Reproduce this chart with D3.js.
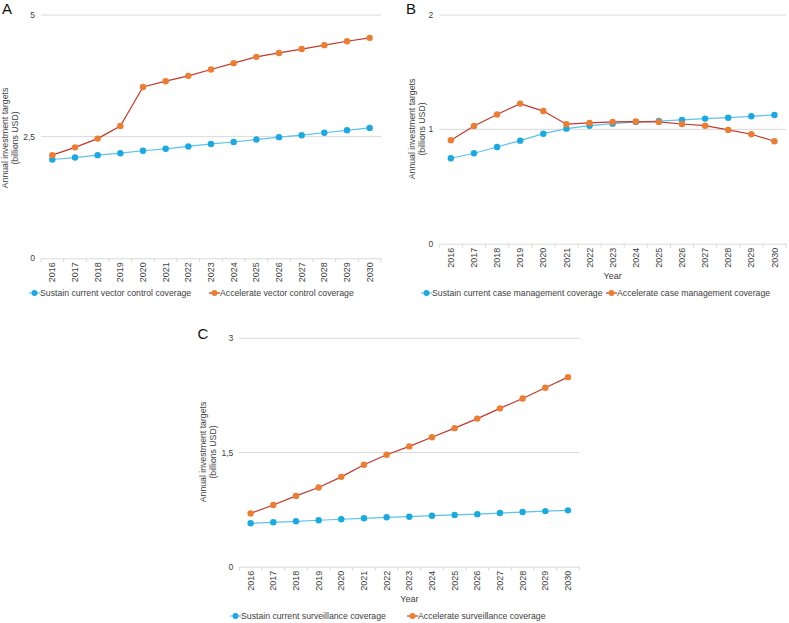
<!DOCTYPE html>
<html><head><meta charset="utf-8">
<script src="https://cdn.jsdelivr.net/npm/d3@7"></script>
<style>
body{margin:0;background:#fff;}
svg{display:block;font-family:"Liberation Sans",Arial,sans-serif;}
</style></head>
<body><svg id="c" width="789" height="623"></svg>
<script>
const years = ["2016","2017","2018","2019","2020","2021","2022","2023","2024","2025","2026","2027","2028","2029","2030"];

const sustainVector = [2.03,2.07,2.12,2.16,2.21,2.25,2.30,2.35,2.39,2.44,2.49,2.53,2.58,2.63,2.68];
const accelVector   = [2.12,2.28,2.46,2.72,3.52,3.64,3.75,3.88,4.01,4.14,4.22,4.30,4.38,4.46,4.53];

const sustainCase = [0.747,0.791,0.846,0.901,0.962,1.006,1.032,1.050,1.065,1.073,1.082,1.094,1.102,1.114,1.126];
const accelCase   = [0.905,1.030,1.130,1.225,1.160,1.045,1.056,1.065,1.068,1.065,1.047,1.032,0.995,0.957,0.896];

const sustainSurv = [0.570,0.583,0.596,0.610,0.623,0.636,0.649,0.657,0.670,0.680,0.690,0.705,0.718,0.730,0.740];
const accelSurv   = [0.70,0.81,0.93,1.04,1.18,1.34,1.47,1.58,1.70,1.82,1.945,2.08,2.21,2.35,2.49];

const ticksA = [0,2.5,5], ticksB = [0,1,2], ticksC = [0,1.5,3];
const yTitle = ["Annual investment targets","(billions USD)"];

const panels = [
  {letter:"A", sustain:sustainVector, accel:accelVector, ticks:ticksA,
   legend:["Sustain current vector control coverage","Accelerate vector control coverage"], xTitle:false,
   L:{x0:41,x1:381,y0:258.3,y1:15,letterX:2,letterY:13.5,titleX:5,titleY:138,legY:293,leg1:29,leg2:209}},
  {letter:"B", sustain:sustainCase, accel:accelCase, ticks:ticksB,
   legend:["Sustain current case management coverage","Accelerate case management coverage"], xTitle:true,
   L:{x0:439.3,x1:786,y0:243.7,y1:15,letterX:406,letterY:13.5,titleX:412,titleY:129,legY:293,leg1:421,leg2:606}},
  {letter:"C", sustain:sustainSurv, accel:accelSurv, ticks:ticksC,
   legend:["Sustain current surveillance coverage","Accelerate surveillance coverage"], xTitle:true,
   L:{x0:239.3,x1:579.3,y0:566.7,y1:338.3,letterX:197.5,letterY:338.5,titleX:203,titleY:452,legY:616,leg1:230,leg2:407}}
];

const blueDot="#1ba9e1", blueLine="#5cc3ec", orangeDot="#ed7d31", redLine="#c0392b";
const textCol="#404040", gridCol="#d9d9d9";
const svg = d3.select("#c");
const fmt = v => String(v).replace(".", ",");

panels.forEach(p=>{
  const L=p.L;
  const g = svg.append("g");
  const x = d3.scaleBand().domain(years).range([L.x0,L.x1]);
  const y = d3.scaleLinear().domain([0,d3.max(p.ticks)]).range([L.y0,L.y1]);

  g.selectAll(".grid").data(p.ticks.filter(t=>t>0)).join("line")
    .attr("x1",L.x0).attr("x2",L.x1).attr("y1",d=>y(d)).attr("y2",d=>y(d))
    .attr("stroke",gridCol).attr("stroke-width",1);
  g.selectAll(".yt").data(p.ticks).join("text")
    .attr("x",L.x0-6).attr("y",d=>y(d)+3).attr("text-anchor","end")
    .attr("font-size",8.5).attr("fill",textCol).text(fmt);
  const xa = g.append("g").attr("transform",`translate(0,${L.y0})`)
    .call(d3.axisBottom(x).tickSize(0).tickPadding(0));
  xa.select(".domain").attr("stroke",gridCol);
  xa.selectAll(".tick text").attr("transform","rotate(-90)")
    .attr("x",-4).attr("y",0).attr("dy","0.35em").attr("text-anchor","end")
    .attr("font-size",9).attr("fill",textCol).attr("font-family","Liberation Sans, Arial, sans-serif");
  const bounds = years.map(d=>x(d)).concat([L.x1]);
  g.selectAll(".tm").data(bounds).join("line")
    .attr("x1",d=>d).attr("x2",d=>d).attr("y1",L.y0).attr("y2",L.y0+4)
    .attr("stroke",gridCol);

  const cx = d=>x(d)+x.bandwidth()/2;
  const line = d3.line().x((d,i)=>cx(years[i])).y(d=>y(d));
  g.append("path").datum(p.sustain).attr("d",line).attr("fill","none").attr("stroke",blueLine).attr("stroke-width",1.2);
  g.append("path").datum(p.accel).attr("d",line).attr("fill","none").attr("stroke",redLine).attr("stroke-width",1.2);
  g.selectAll(".ds").data(p.sustain).join("circle").attr("cx",(d,i)=>cx(years[i])).attr("cy",d=>y(d)).attr("r",3.2).attr("fill",blueDot);
  g.selectAll(".da").data(p.accel).join("circle").attr("cx",(d,i)=>cx(years[i])).attr("cy",d=>y(d)).attr("r",3.2).attr("fill",orangeDot);

  g.append("text").attr("x",L.letterX).attr("y",L.letterY).attr("font-size",15).attr("fill","#111").text(p.letter);
  yTitle.forEach((t,i)=>{
    g.append("text").attr("transform",`translate(${L.titleX+i*9.5},${L.titleY}) rotate(-90)`)
      .attr("text-anchor","middle").attr("dy","0.35em").attr("font-size",8.7).attr("fill",textCol).text(t);
  });
  if(p.xTitle){
    g.append("text").attr("x",(L.x0+L.x1)/2).attr("y",L.y0+35).attr("text-anchor","middle")
      .attr("font-size",9).attr("fill",textCol).text("Year");
  }
  [[L.leg1,blueLine,blueDot,p.legend[0]],[L.leg2,redLine,orangeDot,p.legend[1]]].forEach(([lx,lc,dc,t])=>{
    g.append("line").attr("x1",lx).attr("x2",lx+11).attr("y1",L.legY).attr("y2",L.legY).attr("stroke",lc).attr("stroke-width",1.2);
    g.append("circle").attr("cx",lx+5.5).attr("cy",L.legY).attr("r",3).attr("fill",dc);
    g.append("text").attr("x",lx+11).attr("y",L.legY).attr("dy","0.35em").attr("font-size",8.7).attr("fill",textCol).text(t);
  });
});
</script></body></html>
